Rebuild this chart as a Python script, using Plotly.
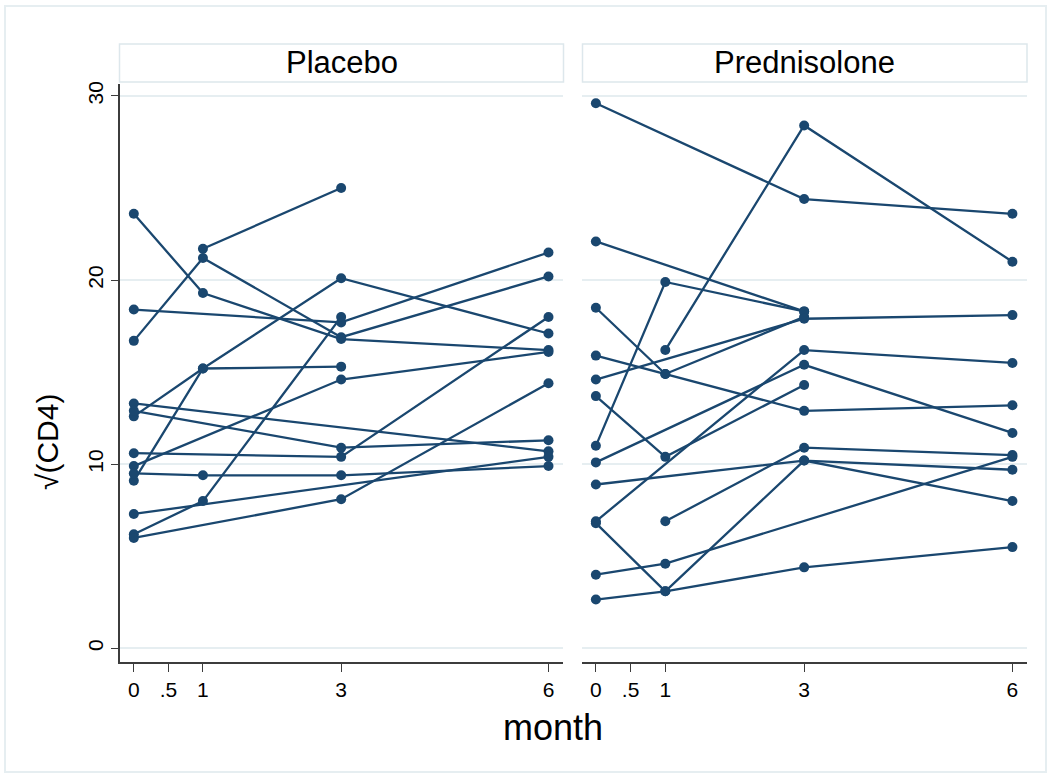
import plotly.graph_objects as go

# ---------------- data ----------------
months = [0, 1, 3, 6]
month_ticks = [0, 0.5, 1, 3, 6]
month_tick_labels = ["0", ".5", "1", "3", "6"]
y_ticks = [0, 10, 20, 30]
panels = ["Placebo", "Prednisolone"]

# sqrt(CD4) per subject at months 0, 1, 3, 6 (None = not measured)
placebo = [
    [23.6, 19.3, 16.8, 16.2],
    [16.7, 21.2, 16.9, 20.2],
    [None, 21.7, 25.0, None],
    [18.4, None, 17.7, 21.5],
    [12.6, 15.2, 20.1, 17.1],
    [9.1, 15.2, 15.3, None],
    [13.3, None, None, 10.7],
    [12.9, None, 10.9, 11.3],
    [10.6, None, 10.4, 18.0],
    [9.9, None, 14.6, 16.1],
    [9.5, 9.4, 9.4, 9.9],
    [7.3, None, None, 10.4],
    [6.2, 8.0, 18.0, None],
    [6.0, None, 8.1, 14.4],
]

prednisolone = [
    [29.6, None, 24.4, 23.6],
    [None, 16.2, 28.4, 21.0],
    [22.1, None, 18.3, None],
    [18.5, 14.9, 18.0, None],
    [11.0, 19.9, 18.3, None],
    [14.6, None, 17.9, 18.1],
    [15.9, 14.9, 12.9, 13.2],
    [13.7, 10.4, 14.3, None],
    [10.1, None, 15.4, 11.7],
    [6.9, None, 16.2, 15.5],
    [8.9, None, 10.2, 9.7],
    [6.8, 3.1, 10.2, 8.0],
    [None, 6.9, 10.9, 10.5],
    [4.0, 4.6, None, 10.4],
    [2.65, 3.1, 4.4, 5.5],
]

# ---------------- style ----------------
W, H = 1051, 775
ML, MR, MT, MB = 120, 24, 84, 113
PW = W - ML - MR
PH = H - MT - MB
NAVY = "#1a476f"
GRID = "#e6eef1"
AXC = "#3c3c3c"
FONT = "Liberation Sans"


def px_x(p):
    return (p - ML) / PW


def px_y(p):
    return (H - MB - p) / PH


fig = go.Figure()

for data, xa, ya in [(placebo, "x", "y"), (prednisolone, "x2", "y2")]:
    for subj in data:
        xs = [m for m, v in zip(months, subj) if v is not None]
        ys = [v for v in subj if v is not None]
        fig.add_trace(go.Scatter(
            x=xs, y=ys, mode="lines+markers",
            xaxis=xa, yaxis=ya,
            line=dict(color=NAVY, width=2.3),
            marker=dict(color=NAVY, size=10, symbol="circle"),
            showlegend=False, hoverinfo="skip",
        ))

left_dom = [0, px_x(563)]
right_dom = [px_x(582), 1]
xr = [-0.2, 6.21]
yr = [-0.74, 30.65]

xcommon = dict(
    range=xr, tickvals=month_ticks, ticktext=month_tick_labels,
    ticks="outside", ticklen=8, tickwidth=1.3, tickcolor=AXC,
    showline=True, linecolor=AXC, linewidth=1.5,
    showgrid=False, zeroline=False,
    tickfont=dict(family=FONT, size=21, color="black"),
)

fig.update_layout(
    width=W, height=H,
    margin=dict(l=ML, r=MR, t=MT, b=MB),
    paper_bgcolor="white", plot_bgcolor="white",
    font=dict(family=FONT, color="black"),
    xaxis=dict(domain=left_dom, anchor="y", **xcommon),
    xaxis2=dict(domain=right_dom, anchor="y2", **xcommon),
    yaxis=dict(
        domain=[0, 1], anchor="x", range=yr, tickvals=y_ticks,
        tickangle=-90, ticks="outside", ticklen=7, tickwidth=1.3, tickcolor=AXC,
        showline=True, linecolor=AXC, linewidth=1.5,
        showgrid=True, gridcolor=GRID, gridwidth=2, zeroline=False,
        tickfont=dict(family=FONT, size=21, color="black"),
    ),
    yaxis2=dict(
        domain=[0, 1], anchor="x2", range=yr, tickvals=y_ticks,
        showticklabels=False, ticks="", showline=False,
        showgrid=True, gridcolor=GRID, gridwidth=2, zeroline=False,
    ),
)

shapes = []
annotations = []
# strip headers
for name, (x0, x1) in zip(panels, [(119.5, 563.5), (582.5, 1027)]):
    shapes.append(dict(type="rect", xref="paper", yref="paper",
                       x0=px_x(x0), x1=px_x(x1), y0=px_y(82), y1=px_y(44),
                       line=dict(color="#dde7ec", width=1.5), fillcolor="white",
                       layer="below"))
    annotations.append(dict(text=name, xref="paper", yref="paper",
                            x=px_x((x0 + x1) / 2), y=px_y(62),
                            xanchor="center", yanchor="middle", showarrow=False,
                            font=dict(family=FONT, size=31, color="black")))
# outer frame
shapes.append(dict(type="rect", xref="paper", yref="paper",
                   x0=px_x(5), x1=px_x(1046), y0=px_y(772), y1=px_y(6),
                   line=dict(color="#e6eef1", width=2), fillcolor="rgba(0,0,0,0)",
                   layer="below"))
# axis titles
annotations.append(dict(text="month", xref="paper", yref="paper",
                        x=px_x(553), y=px_y(727), xanchor="center", yanchor="middle",
                        showarrow=False, font=dict(family=FONT, size=36, color="black")))
annotations.append(dict(text="√(CD4)", xref="paper", yref="paper",
                        x=px_x(48), y=px_y(442), xanchor="center", yanchor="middle",
                        textangle=-90, showarrow=False,
                        font=dict(family=FONT, size=30, color="black")))

fig.update_layout(shapes=shapes, annotations=annotations)

fig.write_html("out.html")
